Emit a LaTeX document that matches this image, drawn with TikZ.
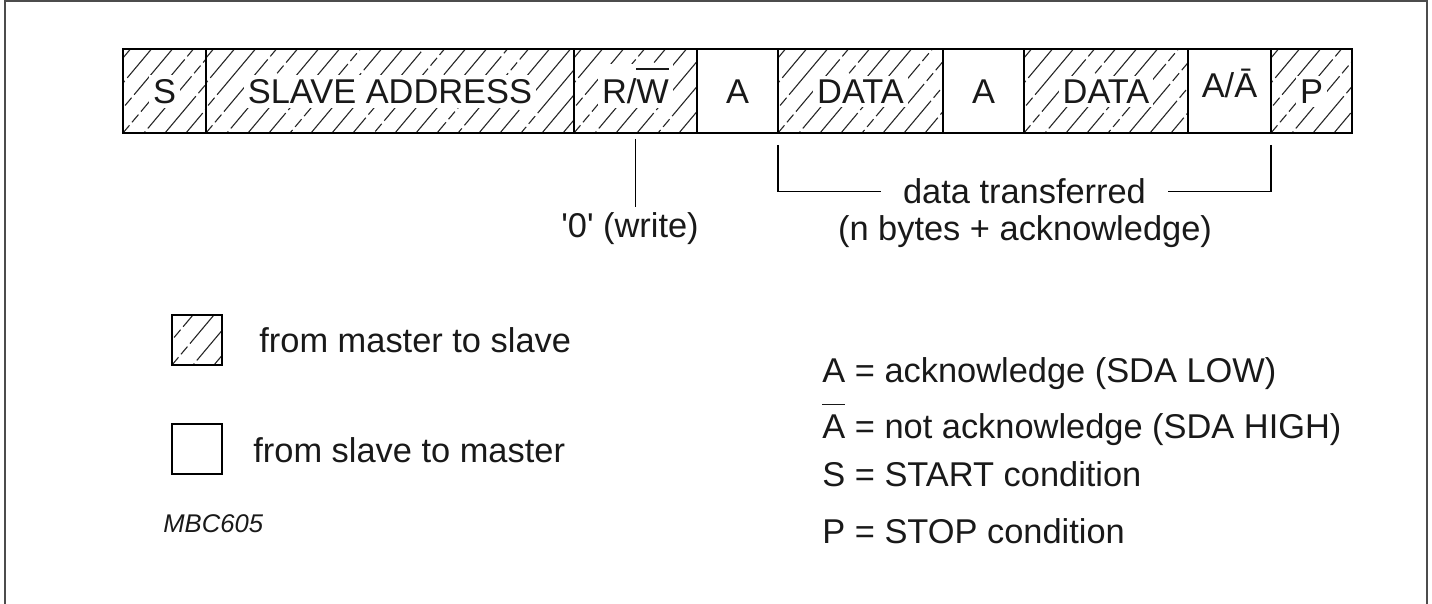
\documentclass[tikz,border=0pt]{standalone}
\usepackage{fontspec}
\setmainfont{Liberation Sans}
\usetikzlibrary{positioning}

% white halo behind labels in hatched fields
\newcommand{\lbl}[1]{{\setlength{\fboxsep}{2pt}\colorbox{white}{#1}}}
% bar over a letter
\newcommand{\barred}[1]{{\setbox0\hbox{#1}\rlap{\raisebox{\dimexpr\ht0+5pt\relax}{\rule{\wd0}{0.6pt}}}\box0}}

\tikzset{
  cell/.style={draw, line width=0.9pt, minimum height=42pt, inner sep=0pt, outer sep=0pt,
    text height=12.3pt, text depth=0pt},
  hatched/.style={cell, path picture={
    \foreach \k in {-5,...,18} {
      \pgfmathsetmacro{\ph}{mod(11*\k+70,41)}
      \draw[line width=0.55pt, black!85, dash pattern=on 34pt off 2pt on 5pt off 2pt, dash phase=\ph pt]
        ([xshift=\k*10.5pt]path picture bounding box.south west) -- ++(50:70pt);
    }}},
}

\begin{document}
\begin{tikzpicture}[x=0.5pt, y=-0.5pt,
    every node/.style={font=\fontsize{17.2}{20}\selectfont, inner sep=0pt, text=black!90}]
    \useasboundingbox (0,0) rectangle (1432,604);
    \draw [line width=1pt, black!70] (5,604) |- (1427,1) -- (1427,604);

    % frame fields
    \node [hatched, minimum width=41.5pt, anchor=north west] (s) at (123,49) {\lbl{S}};
    \node [hatched, minimum width=184pt, right=0pt of s] (addr) {\lbl{SLAVE ADDRESS}};
    \node [hatched, minimum width=61.5pt, right=0pt of addr] (rw) {\lbl{R/\barred{W}}};
    \node [cell, minimum width=40.5pt, right=0pt of rw] (ack1) {A};
    \node [hatched, minimum width=82.5pt, right=0pt of ack1] (data1) {\lbl{DATA}};
    \node [cell, minimum width=40.5pt, right=0pt of data1] (ack2) {A};
    \node [hatched, minimum width=82pt, right=0pt of ack2] (data2) {\lbl{DATA}};
    \node [cell, minimum width=41.5pt, right=0pt of data2] (ack3) {\raisebox{3pt}{A/Ā}};
    \node [hatched, minimum width=40.5pt, right=0pt of ack3] (stop) {\lbl{P}};

    % notes under the frame
    \node [anchor=base, inner sep=3pt] (write) at (630,238) {\textquotesingle 0\textquotesingle\ (write)};
    \draw [line width=0.7pt] (rw.south) ++(0,6) -- (rw.south |- write.north);
    \node [anchor=base, inner xsep=11pt] (xfer) at (1024.5,204) {data transferred};
    \node [anchor=base] (nbytes) at (1025,241) {(n bytes + acknowledge)};
    \draw [line width=0.7pt] (data1.south west) ++(0,12) |- (xfer.west);
    \draw [line width=0.7pt] (stop.south west) ++(0,12) |- (xfer.east);

    % legend
    \node [hatched, minimum width=25pt, minimum height=25pt, line width=0.7pt] (mkey) at (197,340) {};
    \node [anchor=base west] (mtext) at (259,353) {from master to slave};
    \node [cell, minimum width=25pt, minimum height=25pt, line width=0.7pt] (skey) at (197,449) {};
    \node [anchor=base west] (stext) at (253,463) {from slave to master};
    \node [anchor=base west, font=\fontsize{12.8}{15}\selectfont\itshape] (code) at (163,533) {MBC605};

    \node [anchor=base west] (defa) at (822,383) {A = acknowledge (SDA LOW)};
    \node [anchor=base west] (defn) at (822,439) {\barred{A} = not acknowledge (SDA HIGH)};
    \node [anchor=base west] (defs) at (822,487) {S = START condition};
    \node [anchor=base west] (defp) at (822,544) {P = STOP condition};
\end{tikzpicture}
\end{document}
